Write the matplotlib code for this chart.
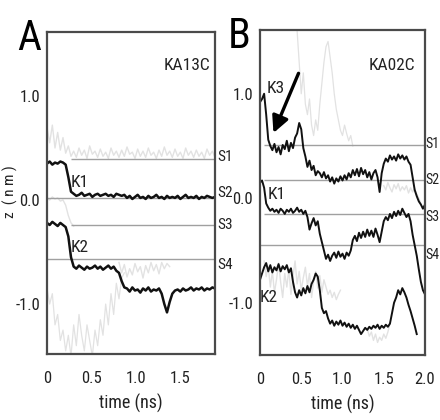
import numpy as np
import matplotlib
matplotlib.use("Agg")
import matplotlib.pyplot as plt

plt.rcParams['font.family'] = ['Roboto Condensed', 'Archivo Narrow', 'PT Sans Narrow',
                               'Liberation Sans Narrow', 'Liberation Sans', 'DejaVu Sans']

# ---------------- data ----------------
# Panel A: KA13C, sampled every 0.03 ns
dtA = 0.03
A_K1 = [0.35, 0.37, 0.34, 0.36, 0.35, 0.37, 0.36, 0.34, 0.22, 0.08,
        0.06, 0.04, 0.05, 0.07, 0.04, 0.05, 0.06, 0.03, 0.05, 0.06,
        0.04, 0.05, 0.06, 0.04, 0.05, 0.03, 0.06, 0.05, 0.04, 0.05,
        0.02, 0.04, 0.01, 0.03, 0.05, 0.02, 0.03, 0.01, 0.04, 0.02,
        0.03, 0.05, 0.02, 0.03, 0.01, 0.04, 0.02, 0.03, 0.02, 0.04,
        0.01, 0.03, 0.05, 0.02, 0.03, 0.02, 0.04, 0.01, 0.03, 0.02,
        0.04, 0.03, 0.02, 0.03]
A_K2 = [-0.22, -0.24, -0.21, -0.23, -0.25, -0.22, -0.24, -0.26, -0.35, -0.55,
        -0.64, -0.66, -0.63, -0.65, -0.67, -0.64, -0.66, -0.65, -0.63, -0.66,
        -0.64, -0.67, -0.65, -0.63, -0.66, -0.64, -0.68, -0.70, -0.78, -0.84,
        -0.85, -0.88, -0.84, -0.87, -0.86, -0.89, -0.85, -0.87, -0.84, -0.88,
        -0.86, -0.87, -0.85, -0.90, -1.00, -1.08, -0.98, -0.90, -0.87, -0.86,
        -0.88, -0.85, -0.87, -0.86, -0.84, -0.87, -0.85, -0.86, -0.84, -0.87,
        -0.85, -0.86, -0.84, -0.85]
A_W1 = [0.70, 0.55, 0.72, 0.50, 0.65, 0.48, 0.60, 0.45, 0.52, 0.42,
        0.47, 0.41, 0.50, 0.43, 0.48, 0.40, 0.52, 0.44, 0.47, 0.41,
        0.49, 0.42, 0.46, 0.40, 0.50, 0.43, 0.47, 0.41, 0.48, 0.42,
        0.51, 0.44, 0.46, 0.40, 0.49, 0.42, 0.47, 0.41, 0.50, 0.43,
        0.46, 0.40, 0.48, 0.42, 0.51, 0.43, 0.47, 0.41, 0.49, 0.42,
        0.46, 0.40, 0.50, 0.43, 0.47, 0.41, 0.48, 0.42, 0.46, 0.40,
        0.49, 0.43, 0.47, 0.41]
A_W2 = [0.02, 0.00, 0.03, 0.01, 0.02, -0.01, 0.00, -0.05, -0.15, -0.22, -0.25]
A_W3 = [-0.85, -1.00, -0.90, -1.20, -1.10, -1.35, -1.25, -1.45, -1.30, -1.50,
        -1.20, -1.40, -1.10, -1.30, -1.45, -1.20, -1.35, -1.50, -1.25, -1.40,
        -1.15, -1.30, -1.00, -1.20, -0.90, -1.10, -0.80, -0.95, -0.75, -0.70]
A_W4_t0 = 0.81
A_W4 = [-0.60, -0.70, -0.62, -0.74, -0.66, -0.72, -0.61, -0.69, -0.64, -0.75,
        -0.63, -0.70, -0.60, -0.68, -0.62, -0.71, -0.60, -0.66, -0.61, -0.64]
A_sites = [0.39, 0.02, -0.24, -0.57]
A_site_start = [0.27, 0.0, 0.27, 0.0]
A_site_labels = ['S1', 'S2', 'S3', 'S4']
A_site_label_z = [0.41, 0.07, -0.24, -0.62]

# Panel B: KA02C, sampled every 0.025 ns
dtB = 0.025
B_K3 = [0.92, 0.95, 1.00, 0.80, 0.56, 0.50, 0.46, 0.52, 0.44, 0.49,
        0.42, 0.51, 0.47, 0.55, 0.45, 0.53, 0.48, 0.58, 0.62, 0.72,
        0.66, 0.48, 0.40, 0.30, 0.36, 0.27, 0.31, 0.22, 0.26, 0.24,
        0.20, 0.25, 0.19, 0.22, 0.16, 0.20, 0.14, 0.19, 0.16, 0.21,
        0.17, 0.22, 0.18, 0.24, 0.20, 0.27, 0.22, 0.28, 0.21, 0.29,
        0.23, 0.27, 0.20, 0.25, 0.18, 0.24, 0.27, 0.20, 0.06, 0.24,
        0.33, 0.38, 0.35, 0.41, 0.37, 0.40, 0.36, 0.42, 0.38, 0.41,
        0.37, 0.40, 0.35, 0.32, 0.20, 0.08, 0.02, -0.03, -0.06, -0.10,
        -0.06]
B_K1 = [0.15, 0.17, 0.10, -0.05, -0.09, -0.12, -0.10, -0.13, -0.11, -0.14,
        -0.10, -0.12, -0.15, -0.11, -0.13, -0.10, -0.14, -0.12, -0.09, -0.13,
        -0.11, -0.15, -0.12, -0.18, -0.30, -0.24, -0.19, -0.26, -0.22, -0.34,
        -0.42, -0.50, -0.58, -0.54, -0.60, -0.55, -0.52, -0.57, -0.51, -0.56,
        -0.53, -0.58, -0.52, -0.55, -0.50, -0.40, -0.36, -0.41, -0.33, -0.38,
        -0.32, -0.37, -0.30, -0.36, -0.31, -0.37, -0.29, -0.35, -0.42, -0.32,
        -0.22, -0.18, -0.21, -0.15, -0.19, -0.13, -0.17, -0.12, -0.16, -0.10,
        -0.14, -0.18, -0.15, -0.22, -0.35, -0.45, -0.55, -0.68, -0.80, -0.88,
        -0.92]
B_K2 = [-0.78, -0.72, -0.66, -0.62, -0.70, -0.64, -0.71, -0.66, -0.69, -0.63,
        -0.70, -0.65, -0.68, -0.64, -0.71, -0.67, -0.80, -0.90, -0.95, -0.88,
        -0.93, -0.86, -0.91, -0.84, -0.90, -0.82, -0.78, -0.72, -0.75, -0.88,
        -1.05, -1.10, -1.08, -1.15, -1.20, -1.17, -1.22, -1.18, -1.21, -1.17,
        -1.22, -1.19, -1.23, -1.20, -1.24, -1.21, -1.25, -1.22, -1.26, -1.30,
        -1.27, -1.24, -1.26, -1.23, -1.25, -1.22, -1.24, -1.21, -1.25, -1.22,
        -1.24, -1.21, -1.23, -1.20, -1.10, -1.00, -0.95, -0.88, -0.92, -0.86,
        -0.90, -0.95, -1.02, -1.08, -1.15, -1.22, -1.30]
B_W1_t0 = 0.45
B_W1 = [1.60, 1.30, 1.00, 1.20, 0.90, 0.80, 0.95, 0.70, 0.60, 0.75,
        0.65, 0.90, 1.10, 1.30, 1.45, 1.50, 1.35, 1.20, 1.00, 0.85,
        0.75, 0.65, 0.60, 0.70, 0.62, 0.55, 0.60, 0.50]
B_W2_t0 = 1.50
B_W2 = [0.12, 0.08, 0.15, 0.10, 0.06, 0.13, 0.09, 0.14, 0.07, 0.11,
        0.08, 0.12, 0.05, 0.10, 0.06, 0.09, 0.04, 0.00, -0.05]
B_W3_t0 = 0.05
B_W3 = [-0.60, -0.75, -0.65, -0.85, -0.70, -0.90, -0.78, -0.62, -0.80, -0.95,
        -0.72, -0.85, -0.68, -0.92, -0.75, -0.60, -0.82, -0.70, -0.88, -0.76,
        -0.66, -0.84, -0.72, -0.95, -0.80, -0.70, -0.86, -0.74, -0.90, -0.78,
        -0.85, -0.92, -0.88, -0.95, -0.90, -0.97, -0.92, -0.88]
B_W4_t0 = 1.30
B_W4 = [-1.25, -1.32, -1.28, -1.36, -1.30, -1.38, -1.33, -1.36, -1.30, -1.34,
        -1.28, -1.20]
B_sites = [0.51, 0.17, -0.15, -0.45]
B_site_start = [0.05, 0.05, 0.05, 0.0]
B_site_labels = ['S1', 'S2', 'S3', 'S4']
B_site_label_z = [0.52, 0.17, -0.18, -0.54]

A_xticks = [0, 0.5, 1.0, 1.5]
A_xticklabels = ['0', '0.5', '1.0', '1.5']
B_xticks = [0, 0.5, 1.0, 1.5, 2.0]
B_xticklabels = ['0', '0.5', '1.0', '1.5', '2.0']
yticks = [-1.0, 0.0, 1.0]
yticklabels = ['-1.0', '0.0', '1.0']

# ---------------- figure ----------------
fig = plt.figure(figsize=(4.4, 4.2), dpi=100)
axA = fig.add_axes([47/440, 1-354/420, (215-47)/440, (354-32)/420])
axB = fig.add_axes([260/440, 1-355/420, (425-260)/440, (355-30)/420])

LIGHT = '#e2e2e2'
SITE = '#a0a0a0'
BLACK = '#111111'
TXT = '#222222'

def tr(ax, vals, dt, t0=0.0, **kw):
    t = t0 + dt * np.arange(len(vals))
    ax.plot(t, vals, **kw)

def style(ax, xlim, ylim, xt, xtl):
    ax.set_xlim(*xlim)
    ax.set_ylim(*ylim)
    ax.set_xticks(xt)
    ax.set_xticklabels(xtl)
    ax.set_yticks(yticks)
    ax.set_yticklabels(yticklabels)
    ax.tick_params(length=0, labelsize=12, colors=TXT)
    ax.tick_params(axis='x', pad=12)
    ax.tick_params(axis='y', pad=5)
    for s in ax.spines.values():
        s.set_color('#4a4a4a')
        s.set_linewidth(1.6)
    ax.set_xlabel('time (ns)', fontsize=13, labelpad=6, color=TXT)

# Panel A
tr(axA, A_W1, dtA, color=LIGHT, lw=1.0)
tr(axA, A_W2, dtA, color=LIGHT, lw=1.0)
tr(axA, A_W3, dtA, color=LIGHT, lw=0.9)
tr(axA, A_W4, dtA, t0=A_W4_t0, color=LIGHT, lw=1.0)
axA.hlines(A_sites, A_site_start, 1.89, colors=SITE, lw=1.0)
tr(axA, A_K1, dtA, color=BLACK, lw=1.8)
tr(axA, A_K2, dtA, color=BLACK, lw=1.8)
style(axA, (0, 1.89), (-1.48, 1.615), A_xticks, A_xticklabels)
axA.text(0.37, 0.17, 'K1', fontsize=12.5, color=TXT, ha='center', va='center')
axA.text(0.37, -0.46, 'K2', fontsize=12.5, color=TXT, ha='center', va='center')
fig.text(187/440, 1-65/420, 'KA13C', ha='center', va='center', fontsize=12.5, color=TXT)
for lab, zv in zip(A_site_labels, A_site_label_z):
    axA.annotate(lab, (1.0, zv), xycoords=('axes fraction', 'data'),
                 xytext=(2, 0), textcoords='offset points', va='center', ha='left',
                 fontsize=11, color=TXT, annotation_clip=False)
fig.text(10/440, 1-192/420, 'z  ( n m )', rotation=90, fontsize=11, ha='center',
         va='center', color=TXT)

# Panel B
tr(axB, B_W1, dtB, t0=B_W1_t0, color=LIGHT, lw=0.9)
tr(axB, B_W2, dtB, t0=B_W2_t0, color=LIGHT, lw=1.0)
tr(axB, B_W3, dtB, t0=B_W3_t0, color=LIGHT, lw=1.0)
tr(axB, B_W4, dtB, t0=B_W4_t0, color=LIGHT, lw=1.0)
axB.hlines(B_sites, B_site_start, 2.0, colors=SITE, lw=1.0)
tr(axB, B_K3, dtB, color=BLACK, lw=1.4)
tr(axB, B_K1, dtB, color=BLACK, lw=1.4)
tr(axB, B_K2, dtB, color=BLACK, lw=1.4)
style(axB, (0, 2.0), (-1.5, 1.61), B_xticks, B_xticklabels)
axB.text(0.19, 1.05, 'K3', fontsize=12.5, color=TXT, ha='center', va='center')
axB.text(0.20, 0.04, 'K1', fontsize=12.5, color=TXT, ha='center', va='center')
axB.text(0.11, -0.95, 'K2', fontsize=12.5, color=TXT, ha='center', va='center')
fig.text(392/440, 1-65/420, 'KA02C', ha='center', va='center', fontsize=12.5, color=TXT)
for lab, zv in zip(B_site_labels, B_site_label_z):
    axB.annotate(lab, (1.0, zv), xycoords=('axes fraction', 'data'),
                 xytext=(0.5, 0), textcoords='offset points', va='center', ha='left',
                 fontsize=10, color=TXT, annotation_clip=False)
axB.annotate('', xy=(0.15, 0.6), xytext=(0.48, 1.22),
             arrowprops=dict(arrowstyle='-|>,head_width=0.5,head_length=1.0',
                             color='black', lw=2.4))

fig.text(29/440, 1-38/420, 'A', fontsize=30, ha='center', va='center')
fig.text(239/440, 1-36/420, 'B', fontsize=30, ha='center', va='center')

fig.savefig('out.png', dpi=100)
